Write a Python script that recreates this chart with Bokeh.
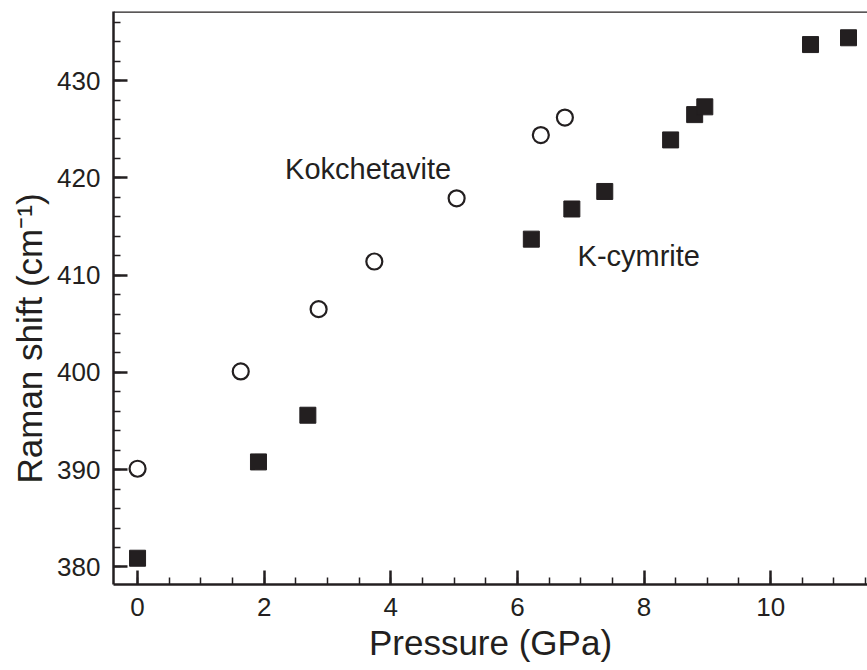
from bokeh.plotting import figure
from bokeh.models import Range1d, Span, FixedTicker, ColumnDataSource, Title
from bokeh.core.properties import value
from bokeh.embed import file_html
from bokeh.resources import INLINE

# Kokchetavite (open circles)
kok_p = [0.0, 1.63, 2.86, 3.74, 5.04, 6.37, 6.75]
kok_r = [390.1, 400.1, 406.5, 411.4, 417.9, 424.4, 426.2]

# K-cymrite (filled squares)
kcy_p = [0.0, 1.91, 2.69, 6.22, 6.86, 7.38, 8.42, 8.80, 8.96, 10.63, 11.23]
kcy_r = [380.9, 390.8, 395.6, 413.7, 416.8, 418.6, 423.9, 426.5, 427.3, 433.7, 434.4]

# annotations
label_text = ["Kokchetavite", "K-cymrite"]
label_x = [2.33, 6.95]
label_y = [420.9, 412.0]

x_ticks = [0, 2, 4, 6, 8, 10]
y_ticks = [380, 390, 400, 410, 420, 430]

INK = "#231f20"
FONT = "Liberation Sans"

p = figure(width=867, height=670, output_backend="svg", toolbar_location=None,
           x_range=Range1d(-0.38, 11.53), y_range=Range1d(378.2, 437.1),
           min_border_left=113, min_border_right=0, min_border_top=11,
           min_border_bottom=86)
p.outline_line_color = None
p.grid.visible = False
p.background_fill_color = "white"
p.border_fill_color = "white"

p.add_layout(Span(location=437.1, dimension="width", line_color=INK, line_width=2.5))

p.xaxis.ticker = FixedTicker(ticks=x_ticks, minor_ticks=[v / 2 for v in range(-1, 24)])
p.yaxis.ticker = FixedTicker(ticks=y_ticks, minor_ticks=list(range(378, 438, 2)))

for ax in (p.xaxis[0], p.yaxis[0]):
    ax.axis_line_color = INK
    ax.axis_line_width = 2.5
    ax.major_tick_line_color = INK
    ax.major_tick_line_width = 2.5
    ax.minor_tick_line_color = INK
    ax.minor_tick_line_width = 1.5
    ax.major_tick_in = 14
    ax.major_tick_out = 0
    ax.minor_tick_in = 7
    ax.minor_tick_out = 0
    ax.major_label_text_font = FONT
    ax.major_label_text_font_size = "26px"
    ax.major_label_text_color = INK
    ax.axis_label_text_font = FONT
    ax.axis_label_text_font_size = "35px"
    ax.axis_label_text_font_style = "normal"
    ax.axis_label_text_color = INK

p.xaxis.axis_label = "Pressure (GPa)"
p.xaxis.major_label_standoff = 13
p.yaxis.major_label_standoff = 13
p.xaxis.axis_label_standoff = 4

# y-axis title, placed as in the original (a little below the frame centre)
p.add_layout(Title(text="Raman shift (cm\u207b\u00b9)", align="left", offset=101,
                   text_font=FONT, text_font_size="35px", text_font_style="normal",
                   text_color=INK, standoff=12), "left")

p.scatter(kok_p, kok_r, marker="circle", size=16, fill_color="white",
          line_color=INK, line_width=2.2)
p.scatter(kcy_p, kcy_r, marker="square", size=16, fill_color=INK,
          line_color=INK, line_width=1)

src = ColumnDataSource(dict(x=label_x, y=label_y, t=label_text))
p.text(x="x", y="y", text="t", source=src, text_font=value(FONT),
       text_font_size="29px", text_color=INK, text_baseline="middle",
       text_align="left")

open("out.html", "w").write(file_html(p, INLINE))
